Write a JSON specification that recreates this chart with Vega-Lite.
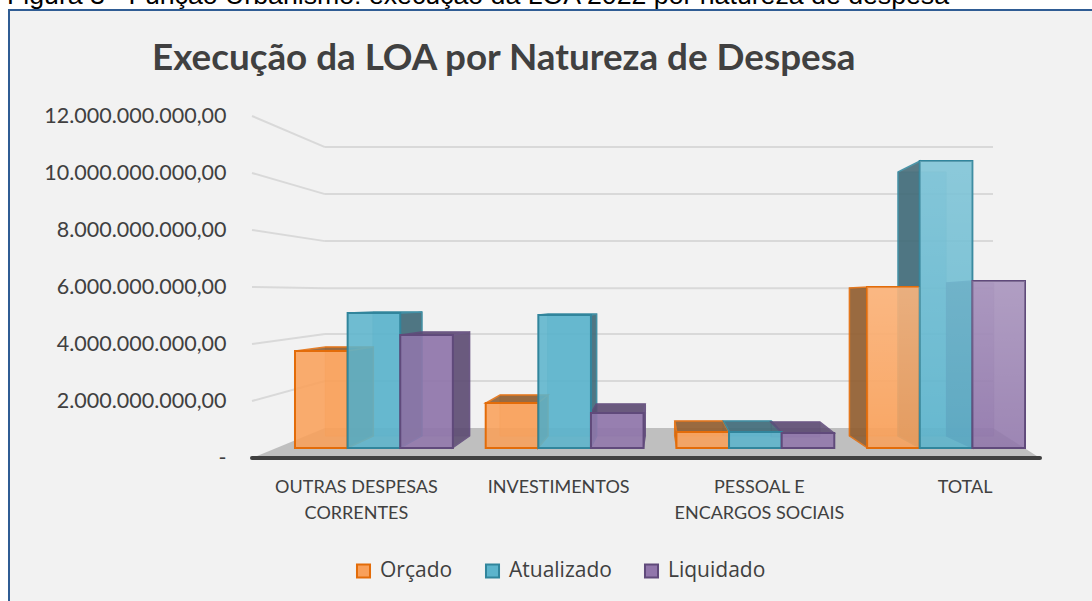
{
"$schema":"https://vega.github.io/schema/vega-lite/v6.json",
"autosize":{"type":"none"},
"padding":{"left":252,"top":116,"right":52,"bottom":143},
"width":788,"height":342,
"background":"#ffffff",
"config":{"view":{"stroke":null},"font":"Lato"},
"datasets":{
"barras":[
{"barra":"O1","categoria":"OUTRAS DESPESAS CORRENTES","serie":"Orçado","valor":3620000000},
{"barra":"A1","categoria":"OUTRAS DESPESAS CORRENTES","serie":"Atualizado","valor":5040000000},
{"barra":"L1","categoria":"OUTRAS DESPESAS CORRENTES","serie":"Liquidado","valor":4220000000},
{"barra":"O2","categoria":"INVESTIMENTOS","serie":"Orçado","valor":1680000000},
{"barra":"A2","categoria":"INVESTIMENTOS","serie":"Atualizado","valor":4960000000},
{"barra":"L2","categoria":"INVESTIMENTOS","serie":"Liquidado","valor":1310000000},
{"barra":"O3","categoria":"PESSOAL E ENCARGOS SOCIAIS","serie":"Orçado","valor":600000000},
{"barra":"A3","categoria":"PESSOAL E ENCARGOS SOCIAIS","serie":"Atualizado","valor":600000000},
{"barra":"L3","categoria":"PESSOAL E ENCARGOS SOCIAIS","serie":"Liquidado","valor":560000000},
{"barra":"O4","categoria":"TOTAL","serie":"Orçado","valor":6010000000},
{"barra":"A4","categoria":"TOTAL","serie":"Atualizado","valor":10710000000},
{"barra":"L4","categoria":"TOTAL","serie":"Liquidado","valor":6230000000}
],
"grade":[
{"marca":12,"plano":"frente","nivel":12000000000},{"marca":12,"plano":"fundo","nivel":10910000000},
{"marca":10,"plano":"frente","nivel":10000000000},{"marca":10,"plano":"fundo","nivel":9260000000},
{"marca":8,"plano":"frente","nivel":8000000000},{"marca":8,"plano":"fundo","nivel":7610000000},
{"marca":6,"plano":"frente","nivel":6000000000},{"marca":6,"plano":"fundo","nivel":5960000000},
{"marca":4,"plano":"frente","nivel":4000000000},{"marca":4,"plano":"fundo","nivel":4350000000},
{"marca":2,"plano":"frente","nivel":2000000000},{"marca":2,"plano":"fundo","nivel":2700000000}
],
"eixo":[{"v":0}]
},
"resolve":{"scale":{"x":"independent","y":"independent","xOffset":"independent","shape":"independent","fill":"independent","stroke":"independent"}},
"layer":[
{"data":{"name":"eixo"},"mark":{"type":"text","align":"left","baseline":"alphabetic","font":"Liberation Sans","fontSize":26.7,"color":"#000000"},
 "encoding":{"x":{"value":-245},"y":{"value":-112},"text":{"datum":"Figura 3 - Função Urbanismo: execução da LOA 2022 por natureza de despesa"}}},
{"data":{"name":"eixo"},"mark":{"type":"rect","fill":"#f2f2f2","stroke":"#2f5c94","strokeWidth":2},
 "encoding":{"x":{"value":-243},"x2":{"value":842},"y":{"value":-106},"y2":{"value":490}}},
{"data":{"name":"eixo"},"mark":{"type":"text","align":"left","baseline":"alphabetic","font":"Lato","fontSize":36.8,"fontWeight":"bold","color":"#404040"},
 "encoding":{"x":{"value":-100},"y":{"value":-46},"text":{"datum":"Execução da LOA por Natureza de Despesa"}}},
{"data":{"name":"eixo"},"mark":{"type":"point","filled":true,"fill":"#bfbfbf","opacity":1,"size":4,"shape":"M0,0L73,-30L741,-30L788,0Z"},
 "encoding":{"x":{"value":0},"y":{"field":"v","type":"quantitative","scale":{"domain":[0,12000000000]},"axis":null}}},
{"data":{"name":"grade"},"transform":[{"filter":"datum.plano=='fundo'"}],"mark":{"type":"rule","stroke":"#d9d9d9","strokeWidth":2},
 "encoding":{"x":{"value":73},"x2":{"value":741},"y":{"field":"nivel","type":"quantitative","scale":{"domain":[0,12000000000]},"axis":null}}},
{"data":{"name":"grade"},"mark":{"type":"line","stroke":"#d9d9d9","strokeWidth":2},
 "encoding":{"x":{"field":"plano","type":"nominal","sort":null,"scale":{"type":"point","domain":["frente","fundo"],"range":[0,73],"padding":0},"axis":null},
 "y":{"field":"nivel","type":"quantitative","scale":{"domain":[0,12000000000]},
 "axis":{"zindex":1,"values":[0,2000000000,4000000000,6000000000,8000000000,10000000000,12000000000],"title":null,"domain":false,"ticks":false,"grid":false,"labelPadding":26,"labelLimit":0,"labelFont":"Lato","labelFontSize":21.5,"labelColor":"#404040","labelExpr":"datum.value==0?'-':format(datum.value/1000000000,'.0f')+'.000.000.000,00'"}},
 "detail":{"field":"marca"}}},
{"data":{"name":"barras"},"mark":{"type":"point","filled":true,"size":4,"opacity":0.4,"strokeWidth":1},
 "encoding":{
 "x":{"field":"categoria","type":"nominal","sort":null,"scale":{"domain":["OUTRAS DESPESAS CORRENTES","INVESTIMENTOS","PESSOAL E ENCARGOS SOCIAIS","TOTAL"],"range":[43,773],"paddingInner":0.172,"paddingOuter":0},"axis":null},
 "xOffset":{"field":"serie","type":"nominal","sort":null,"scale":{"domain":["Orçado","Atualizado","Liquidado"]}},
 "y":{"field":"valor","type":"quantitative","scale":{"domain":[-373000000,12388000000]},"axis":null},
 "fill":{"field":"serie","type":"nominal","scale":{"domain":["Orçado","Atualizado","Liquidado"],"range":["#f79646","#4bacc6","#8064a2"]},"legend":null},
 "stroke":{"field":"serie","type":"nominal","scale":{"domain":["Orçado","Atualizado","Liquidado"],"range":["#e36c09","#31859c","#604a7b"]},"legend":null},
 "shape":{"field":"barra","type":"nominal","legend":null,"scale":{"domain":["O1","A1","L1","O2","A2","L2","O3","A3","L3","O4","A4","L4"],"range":[
 "M4,-4L52,-4L52,85L4,85Z","M-1,-1L48,-1L48,123L-1,123Z","M-5,-3L43,-3L43,101L-5,101Z",
 "M-12,-8L36,-8L36,33L-12,33Z","M-17,-1L32,-1L32,121L-17,121Z","M-21,-9L28,-9L28,23L-21,23Z",
 "M-28,-11L20,-11L20,4L-28,4Z","M-32,-11L16,-11L16,4L-32,4Z","M-37,-11L12,-11L12,4L-37,4Z",
 "M-44,1L4,1L4,149L-44,149Z","M-48,11L0,11L0,275L-48,275Z","M-52,2L-5,2L-5,155L-52,155Z"]}}
 }},
{"data":{"name":"barras"},"mark":{"type":"point","filled":true,"size":4,"opacity":0.85,"strokeWidth":1.5},
 "encoding":{
 "x":{"field":"categoria","type":"nominal","sort":null,"scale":{"domain":["OUTRAS DESPESAS CORRENTES","INVESTIMENTOS","PESSOAL E ENCARGOS SOCIAIS","TOTAL"],"range":[43,773],"paddingInner":0.172,"paddingOuter":0},"axis":null},
 "xOffset":{"field":"serie","type":"nominal","sort":null,"scale":{"domain":["Orçado","Atualizado","Liquidado"]}},
 "y":{"field":"valor","type":"quantitative","scale":{"domain":[-373000000,12388000000]},"axis":null},
 "fill":{"field":"serie","type":"nominal","scale":{"domain":["Orçado","Atualizado","Liquidado"],"range":["#8a5a2e","#3f6673","#5b4a70"]},"legend":null},
 "stroke":{"field":"serie","type":"nominal","scale":{"domain":["Orçado","Atualizado","Liquidado"],"range":["#e36c09","#31859c","#604a7b"]},"legend":null},
 "shape":{"field":"barra","type":"nominal","legend":null,"scale":{"domain":["O1","A1","L1","O2","A2","L2","O3","A3","L3","O4","A4","L4"],"range":[
 "M-26,0L4,-4L52,-4L26,0ZM26,0L52,-4L52,85L26,97Z",
 "M-26,0L-1,-1L48,-1L26,0ZM26,0L48,-1L48,123L26,135Z",
 "M-26,0L-5,-3L43,-3L26,0ZM26,0L43,-3L43,101L26,113Z",
 "M-26,0L-12,-8L36,-8L26,0ZM26,0L36,-8L36,33L26,45Z",
 "M-26,0L-17,-1L32,-1L26,0ZM26,0L32,-1L32,121L26,133Z",
 "M-26,0L-21,-9L28,-9L26,0ZM26,0L28,-9L28,23L26,35Z",
 "M-26,0L-28,-11L20,-11L26,0ZM-26,0L-28,-11L-28,4L-26,16Z",
 "M-26,0L-32,-11L16,-11L26,0Z",
 "M-26,0L-37,-11L12,-11L26,0Z",
 "M-26,0L-44,1L-44,149L-26,161Z",
 "M-26,0L-48,11L-48,275L-26,287Z",
 "M-26,0L-52,2L-52,155L-26,167Z"]}}
 }},
{"data":{"name":"barras"},"mark":{"type":"bar","fillOpacity":0.88,"strokeWidth":2},
 "encoding":{
 "x":{"field":"categoria","type":"nominal","sort":null,"scale":{"domain":["OUTRAS DESPESAS CORRENTES","INVESTIMENTOS","PESSOAL E ENCARGOS SOCIAIS","TOTAL"],"range":[43,773],"paddingInner":0.172,"paddingOuter":0},
 "axis":{"zindex":1,"title":null,"domain":false,"ticks":false,"grid":false,"labelAngle":0,"labelPadding":20,"labelFont":"Lato","labelFontSize":18,"labelColor":"#404040","labelLimit":0,"labelLineHeight":26,"labelBaseline":"top",
 "labelOffset":{"condition":[{"test":"datum.label=='OUTRAS DESPESAS CORRENTES'","value":-17.5},{"test":"datum.label=='INVESTIMENTOS'","value":-6},{"test":"datum.label=='TOTAL'","value":19}],"value":4},
 "labelExpr":"datum.label=='OUTRAS DESPESAS CORRENTES'?['OUTRAS DESPESAS','CORRENTES']:datum.label=='PESSOAL E ENCARGOS SOCIAIS'?['PESSOAL E','ENCARGOS SOCIAIS']:datum.label"}},
 "xOffset":{"field":"serie","type":"nominal","sort":null,"scale":{"domain":["Orçado","Atualizado","Liquidado"]}},
 "y":{"field":"valor","type":"quantitative","stack":null,"scale":{"domain":[-373000000,12388000000]},"axis":null},
 "fill":{"field":"serie","type":"nominal","sort":null,"scale":{"domain":["Orçado","Atualizado","Liquidado"],"range":["#f9a05a","#5cb4cc","#9176ab"]},
 "legend":{"title":null,"orient":"none","legendX":101,"legendY":444,"direction":"horizontal","symbolType":"square","symbolSize":170,"symbolStrokeWidth":2,"labelFont":"Open Sans","labelFontSize":21,"labelColor":"#404040","labelOffset":6,"columnPadding":28}},
 "stroke":{"field":"serie","type":"nominal","sort":null,"scale":{"domain":["Orçado","Atualizado","Liquidado"],"range":["#e36c09","#31859c","#604a7b"]}}
 }},
{"data":{"name":"barras"},"transform":[{"filter":"datum.categoria=='TOTAL'"}],
 "mark":{"type":"bar","fill":{"gradient":"linear","x1":0,"y1":0,"x2":0,"y2":1,"stops":[{"offset":0,"color":"rgba(255,255,255,0.2)"},{"offset":1,"color":"rgba(255,255,255,0)"}]}},
 "encoding":{
 "x":{"field":"categoria","type":"nominal","sort":null,"scale":{"domain":["OUTRAS DESPESAS CORRENTES","INVESTIMENTOS","PESSOAL E ENCARGOS SOCIAIS","TOTAL"],"range":[43,773],"paddingInner":0.172,"paddingOuter":0},"axis":null},
 "xOffset":{"field":"serie","type":"nominal","sort":null,"scale":{"domain":["Orçado","Atualizado","Liquidado"]}},
 "y":{"field":"valor","type":"quantitative","stack":null,"scale":{"domain":[-373000000,12388000000]},"axis":null}
 }},
{"data":{"name":"eixo"},"mark":{"type":"rule","stroke":"#404040","strokeWidth":4,"strokeCap":"round"},
 "encoding":{"y":{"field":"v","type":"quantitative","scale":{"domain":[0,12000000000]},"axis":null}}}
]
}
